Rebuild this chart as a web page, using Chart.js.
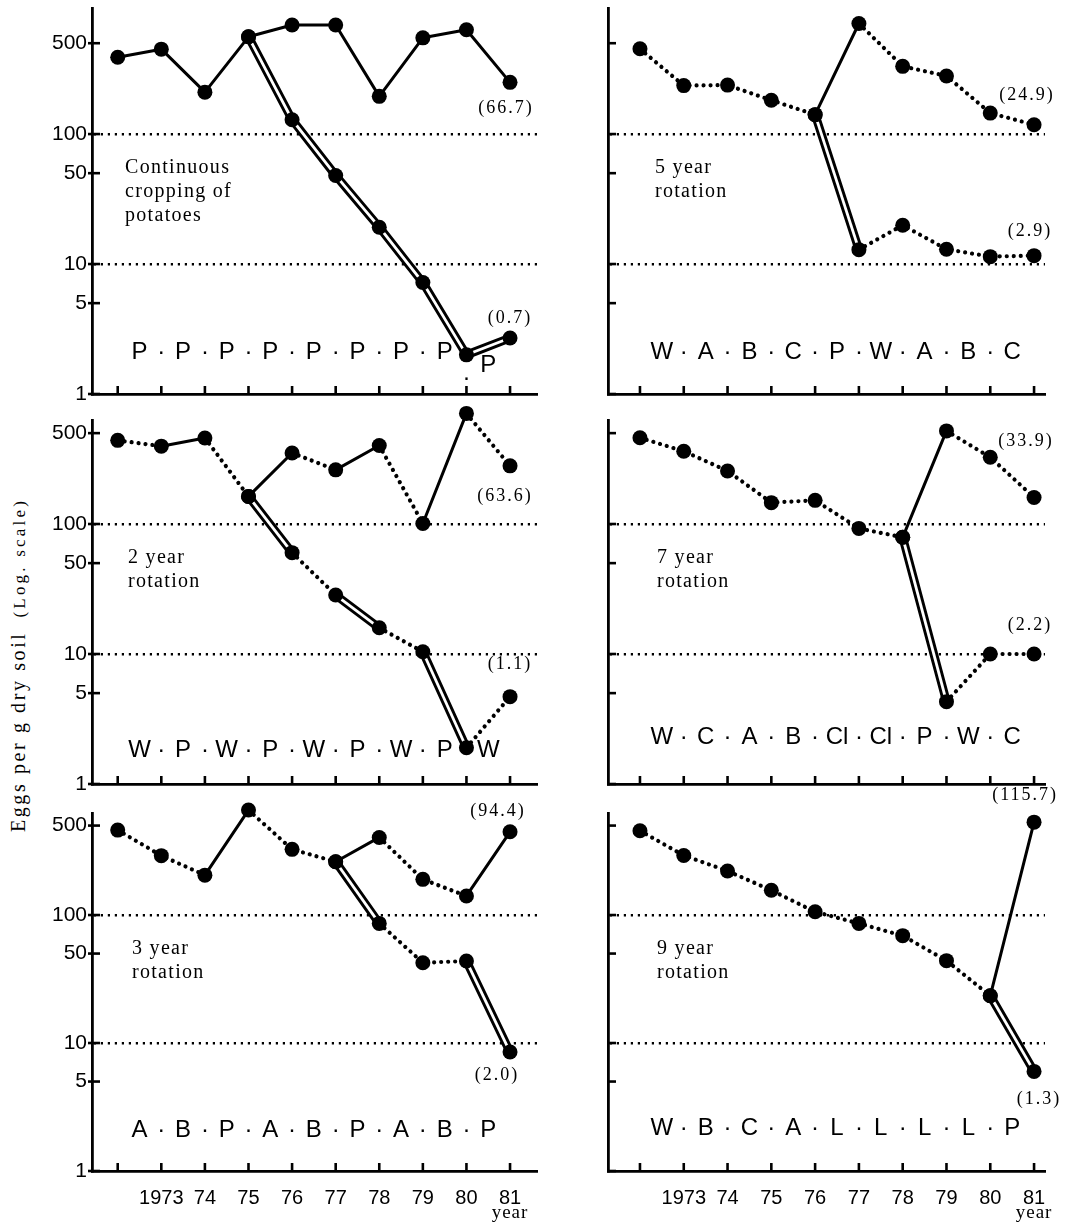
<!DOCTYPE html>
<html><head><meta charset="utf-8">
<script src="https://cdn.jsdelivr.net/npm/chart.js@4.4.1/dist/chart.umd.min.js"></script>
<style>
html,body{margin:0;padding:0;background:#fff;}
#page{position:relative;width:1089px;height:1225px;overflow:hidden;background:#fff;}
#page canvas{position:absolute;}
#ytitle{position:absolute;left:18px;top:665px;transform:translate(-50%,-50%) rotate(-90deg);white-space:nowrap;font-family:"Liberation Serif",serif;font-size:20px;letter-spacing:2.6px;color:#000;}
#ytitle span{font-size:17px;letter-spacing:3.2px;margin-left:14px;}
</style></head>
<body><div id="page"><div id="ytitle">Eggs per g dry soil<span>(Log. scale)</span></div></div>
<script>
// ---------- data ----------
const years = [1972, 1973, 1974, 1975, 1976, 1977, 1978, 1979, 1980, 1981];
const xTickYears = [1973, 1974, 1975, 1976, 1977, 1978, 1979, 1980, 1981];
const xTickLabels = ['1973', '74', '75', '76', '77', '78', '79', '80', '81'];
const yTickValues = [1, 5, 10, 50, 100, 500];
const yTickLabels = ['1', '5', '10', '50', '100', '500'];

const contTitle = ['Continuous', 'cropping of', 'potatoes'];
const contUpper = [390, 450, 210, 560, 690, 690, 195, 550, 635, 250];
const contLower = [null, null, null, null, 129, 48, 19.2, 7.2, 2.0, 2.7];
const contCrops = ['P', 'P', 'P', 'P', 'P', 'P', 'P', 'P', 'P'];
const contNotes = ['(66.7)', '(0.7)'];

const rot5Title = ['5 year', 'rotation'];
const rot5Upper = [453, 236, 238, 182, 141, 709, 332, 280, 145, 118];
const rot5Lower = [null, null, null, null, null, 12.9, 19.9, 13.0, 11.4, 11.6];
const rot5Crops = ['W', 'A', 'B', 'C', 'P', 'W', 'A', 'B', 'C'];
const rot5Notes = ['(24.9)', '(2.9)'];

const rot2Title = ['2 year', 'rotation'];
const rot2Upper = [440, 397, 459, 163, 352, 261, 402, 101, 709, 280];
const rot2Lower = [null, null, null, null, 60.2, 28.4, 15.9, 10.4, 1.9, 4.7];
const rot2Crops = ['W', 'P', 'W', 'P', 'W', 'P', 'W', 'P', 'W'];
const rot2Notes = ['(63.6)', '(1.1)'];

const rot7Title = ['7 year', 'rotation'];
const rot7Upper = [461, 363, 256, 146, 152, 92.5, 79, 520, 326, 160];
const rot7Lower = [null, null, null, null, null, null, null, 4.3, 10, 10];
const rot7Crops = ['W', 'C', 'A', 'B', 'Cl', 'Cl', 'P', 'W', 'C'];
const rot7Notes = ['(33.9)', '(2.2)'];

const rot3Title = ['3 year', 'rotation'];
const rot3Upper = [461, 291, 205, 661, 326, 261, 404, 190, 141, 447];
const rot3Lower = [null, null, null, null, null, null, 86, 42.4, 43.7, 8.5];
const rot3Crops = ['A', 'B', 'P', 'A', 'B', 'P', 'A', 'B', 'P'];
const rot3Notes = ['(94.4)', '(2.0)'];

const rot9Title = ['9 year', 'rotation'];
const rot9Upper = [456, 292, 221, 156, 106, 86, 69, 44, 23.4, 532];
const rot9Lower = [null, null, null, null, null, null, null, null, null, 6.0];
const rot9Crops = ['W', 'B', 'C', 'A', 'L', 'L', 'L', 'L', 'P'];
const rot9Notes = ['(115.7)', '(1.3)'];

// ---------- layout ----------
const COLS = {
  L: {left: 0, width: 545, axisW: 92, padR: 5, xmin: 1971.41, xmax: 1981.63},
  R: {left: 545, width: 544, axisW: 63, padR: 44, xmin: 1971.27, xmax: 1981.25}
};
// canvases overlap slightly (transparent) so edge labels are never clipped
const ROWS = {
  1: {top: 0, height: 414, padT: 8, xAxisH: 20, ymax: 933},
  2: {top: 390, height: 414, padT: 30, xAxisH: 20, ymax: 631},
  3: {top: 765, height: 460, padT: 48, xAxisH: 54, ymax: 627}
};
const panels = [
  {col: 'L', row: 1, title: contTitle, upper: contUpper, lower: contLower, crops: contCrops, notes: contNotes,
   noteOff: [[-4, 26], [0, -20]], cropRise: 42, titleDx: 33, lastDy: 13, lastDotDy: 26},
  {col: 'R', row: 1, title: rot5Title, upper: rot5Upper, lower: rot5Lower, crops: rot5Crops, notes: rot5Notes,
   noteOff: [[-7, -29], [-4, -24]], cropRise: 42, titleDx: 47},
  {col: 'L', row: 2, title: rot2Title, upper: rot2Upper, lower: rot2Lower, crops: rot2Crops, notes: rot2Notes,
   noteOff: [[-5, 30], [0, -32]], cropRise: 34, titleDx: 36},
  {col: 'R', row: 2, title: rot7Title, upper: rot7Upper, lower: rot7Lower, crops: rot7Crops, notes: rot7Notes,
   noteOff: [[-8, -56], [-4, -29]], cropRise: 47, titleDx: 49},
  {col: 'L', row: 3, title: rot3Title, upper: rot3Upper, lower: rot3Lower, crops: rot3Crops, notes: rot3Notes,
   noteOff: [[-12, -21], [-13, 23]], cropRise: 41, titleDx: 40},
  {col: 'R', row: 3, title: rot9Title, upper: rot9Upper, lower: rot9Lower, crops: rot9Crops, notes: rot9Notes,
   noteOff: [[-9, -27], [5, 28]], cropRise: 43, titleDx: 49}
];

const SANS = '"Liberation Sans", Arial, sans-serif';
const SERIF = '"Liberation Serif", "Times New Roman", serif';

function seriesDatasets(pts, crops, kind) {
  const isP = c => crops[Math.round(c.p0.parsed.x) - 1972] === 'P';
  const out = [];
  out.push({
    data: pts, order: 2, borderColor: '#000', pointRadius: 0, borderWidth: 3,
    borderCapStyle: 'round', borderJoinStyle: 'round', clip: false, tension: 0, fill: false,
    segment: {
      borderWidth: c => isP(c) ? (kind === 'upper' ? 3 : 8.6) : 4.2,
      borderDash: c => isP(c) ? [] : [0.001, 7]
    }
  });
  if (kind === 'lower') {
    out.push({
      data: pts, order: 1, borderColor: 'rgba(0,0,0,0)', pointRadius: 0, borderWidth: 2.8,
      borderCapStyle: 'butt', clip: false, tension: 0, fill: false,
      segment: { borderColor: c => isP(c) ? '#fff' : 'rgba(0,0,0,0)' }
    });
  }
  out.push({
    data: pts, order: 0, showLine: false, pointRadius: 7.5, pointBackgroundColor: '#000',
    pointBorderWidth: 0, clip: false
  });
  return out;
}

const page = document.getElementById('page');

panels.forEach(p => {
  const C = COLS[p.col], R = ROWS[p.row];
  const cv = document.createElement('canvas');
  cv.width = C.width; cv.height = R.height;
  cv.style.left = C.left + 'px'; cv.style.top = R.top + 'px';
  cv.style.width = C.width + 'px'; cv.style.height = R.height + 'px';
  page.appendChild(cv);

  const upperPts = years.map((yr, i) => ({x: yr, y: p.upper[i]}));
  const first = p.lower.findIndex(v => v !== null);
  const lowerPts = [{x: years[first - 1], y: p.upper[first - 1]}];
  p.lower.forEach((v, i) => { if (v !== null) lowerPts.push({x: years[i], y: v}); });

  const datasets = [...seriesDatasets(upperPts, p.crops, 'upper'), ...seriesDatasets(lowerPts, p.crops, 'lower')];

  const decor = {
    id: 'decor',
    afterDraw(chart) {
      const {ctx, chartArea: a} = chart;
      const xs = chart.scales.x, ys = chart.scales.y;
      ctx.save();
      ctx.strokeStyle = '#000'; ctx.fillStyle = '#000'; ctx.lineWidth = 2.6;
      // inward tick marks
      yTickValues.forEach(v => {
        const py = ys.getPixelForValue(v);
        ctx.beginPath(); ctx.moveTo(a.left - (p.col === 'L' ? 4 : 0), py); ctx.lineTo(a.left + 8, py); ctx.stroke();
      });
      years.forEach(yr => {
        const px = xs.getPixelForValue(yr);
        ctx.beginPath(); ctx.moveTo(px, a.bottom); ctx.lineTo(px, a.bottom - 8); ctx.stroke();
      });
      // crop sequence
      ctx.font = '24px ' + SANS; ctx.textAlign = 'center'; ctx.textBaseline = 'middle';
      const cy = a.bottom - p.cropRise;
      const n = p.crops.length;
      p.crops.forEach((c, i) => {
        const dy = (i === n - 1) ? (p.lastDy || 0) : 0;
        ctx.fillText(c, xs.getPixelForValue(1972.5 + i), cy + dy);
      });
      for (let i = 1; i < n; i++) {
        const dy = (i === n - 1) ? (p.lastDotDy || 0) : 0;
        ctx.fillText('\u00B7', xs.getPixelForValue(1972 + i), cy + dy);
      }
      // panel title
      ctx.font = '20px ' + SERIF; ctx.textAlign = 'left';
      try { ctx.letterSpacing = '1.3px'; } catch (e) {}
      const ty = ys.getPixelForValue(55);
      p.title.forEach((t, k) => ctx.fillText(t, a.left + p.titleDx, ty + k * 24));
      // end-value notes
      ctx.font = '18px ' + SERIF; ctx.textAlign = 'center';
      try { ctx.letterSpacing = '2px'; } catch (e) {}
      const ends = [p.upper[9], p.lower[9]];
      p.notes.forEach((t, k) => {
        const px = xs.getPixelForValue(1981) + p.noteOff[k][0];
        const py = ys.getPixelForValue(ends[k]) + p.noteOff[k][1];
        ctx.fillText(t, px, py);
      });
      if (p.row === 3) {
        ctx.font = '19px ' + SERIF;
        try { ctx.letterSpacing = '1px'; } catch (e) {}
        ctx.fillText('year', xs.getPixelForValue(1981), a.bottom + 42);
      }
      ctx.restore();
    }
  };

  new Chart(cv, {
    type: 'line',
    data: {datasets},
    options: {
      responsive: false, animation: false, events: [], devicePixelRatio: 1,
      layout: {padding: {top: R.padT, right: C.padR, left: 0, bottom: 0}},
      plugins: {legend: {display: false}, tooltip: {enabled: false}, title: {display: false}},
      scales: {
        x: {
          type: 'linear', min: C.xmin, max: C.xmax,
          grid: {display: false},
          border: {display: true, color: '#000', width: 2.8},
          ticks: {display: p.row === 3, autoSkip: false, maxRotation: 0, padding: 7, color: '#000',
                  font: {family: SANS, size: 20},
                  callback: (v) => { const i = xTickYears.indexOf(Math.round(v)); return i >= 0 ? xTickLabels[i] : ''; }},
          afterBuildTicks: s => { s.ticks = xTickYears.map(v => ({value: v})); },
          afterFit: s => { s.height = R.xAxisH; s.paddingLeft = 0; s.paddingRight = 0; }
        },
        y: {
          type: 'logarithmic', min: 1, max: R.ymax,
          grid: {drawTicks: false, lineWidth: 2.4,
                 color: c => (c.tick && (c.tick.value === 10 || c.tick.value === 100)) ? '#000' : 'rgba(0,0,0,0)'},
          border: {display: true, color: '#000', width: 2.8, dash: [2.2, 4.8]},
          ticks: {display: p.col === 'L', padding: 5, color: '#000', font: {family: SANS, size: 21},
                  callback: (v, i) => yTickLabels[i]},
          afterBuildTicks: s => { s.ticks = yTickValues.map(v => ({value: v})); },
          afterFit: s => { s.width = C.axisW; s.paddingTop = 0; s.paddingBottom = 0; }
        }
      }
    },
    plugins: [decor]
  });
});
</script>
</body></html>
